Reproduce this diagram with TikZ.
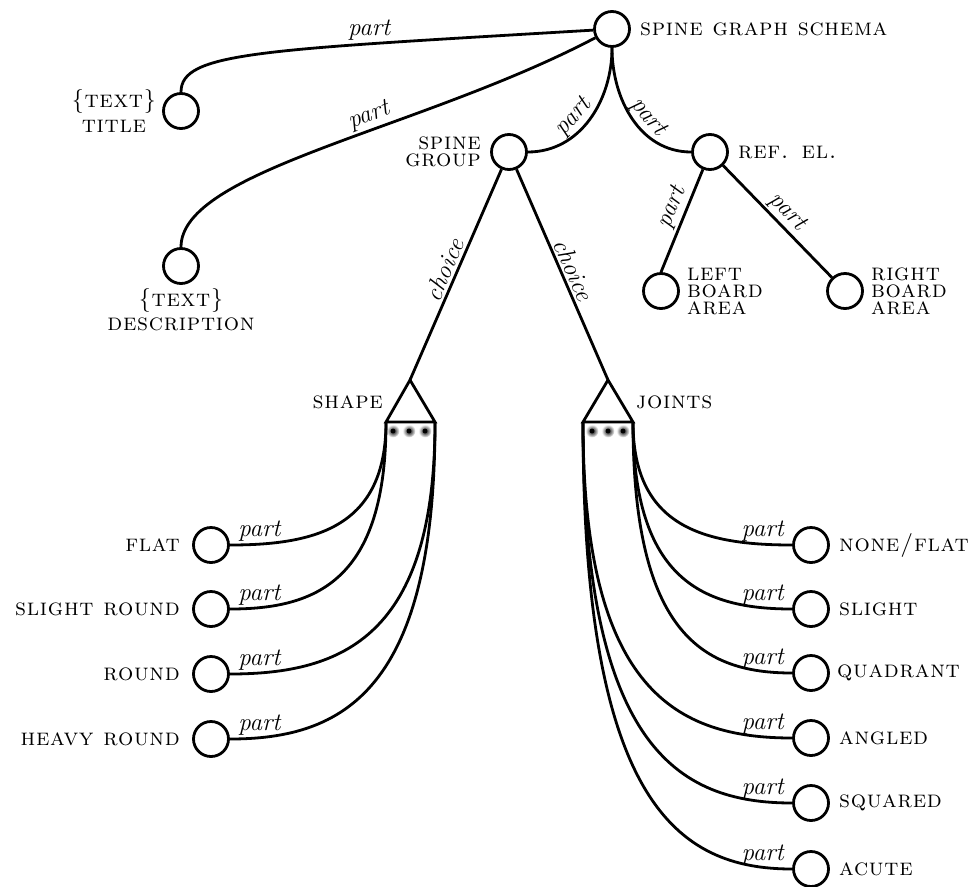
\documentclass[tikz,border=0pt]{standalone}
\usepackage{fontspec}
\newfontfamily\capsfont{lmromancaps10-regular.otf}[LetterSpace=3]
\usetikzlibrary{positioning,calc}
\begin{document}
\begin{tikzpicture}[x=1pt,y=-1pt,
  ent/.style={circle,draw,line width=2.8pt,minimum size=35pt,inner sep=0pt},
  conn/.style={line width=2.8pt},
  tri/.style={line width=2.8pt},
  txt/.style={font=\capsfont\fontsize{24}{17}\selectfont, inner sep=0pt},
  rel/.style={font=\fontsize{25}{25}\selectfont\itshape, inner sep=2pt},
]
\useasboundingbox (0,0) rectangle (973,886);

% entity circles
\node[ent] (root) at (612,29) {};
\node[ent] (title) at (181,111) {};
\node[ent] (desc) at (181,266) {};
\node[ent] (sg) at (509,152) {};
\node[ent] (ref) at (710,152) {};
\node[ent] (lb) at (661,291) {};
\node[ent] (rb) at (845,291) {};
\node[ent] (flat) at (211,545) {};
\node[ent] (sround) at (211,609) {};
\node[ent] (round) at (211,674) {};
\node[ent] (hround) at (211,739) {};
\node[ent] (nf) at (811,545) {};
\node[ent] (sl) at (811,609) {};
\node[ent] (quad) at (811,673) {};
\node[ent] (ang) at (811,738) {};
\node[ent] (sq) at (811,803) {};
\node[ent] (acute) at (811,869) {};

% choice triangles
\coordinate (shA) at (410,380);
\coordinate (shL) at (386,422);
\coordinate (shR) at (435,422);
\coordinate (jA) at (608,380);
\coordinate (jL) at (583,422);
\coordinate (jR) at (633,422);
\draw[tri] (shA) -- (shL) -- (shR) -- cycle;
\draw[tri] (jA) -- (jL) -- (jR) -- cycle;
\foreach \x in {393,409,425,592,608,623} {
  \shade[inner color=black, outer color=white] (\x,431) circle (6.5);
  \fill (\x,431) circle (2.4);
}

% labels
\node[txt, right=9pt of root] (troot) {spine graph schema};
\node[txt, left=6pt of title, align=center] (ttitle) {\{text\}\\[5pt]title};
\node[txt, below=3pt of desc, align=center] (tdesc) {\{text\}\\[5pt]description};
\node[txt, left=9pt of sg, align=right] (tsg) {spine\\group};
\node[txt, right=9pt of ref] (tref) {ref. el.};
\node[txt, right=7pt of lb, align=left] (tlb) {left\\board\\area};
\node[txt, right=7pt of rb, align=left] (trb) {right\\board\\area};
\node[txt, anchor=east] (tshape) at (383,402) {shape};
\node[txt, anchor=west] (tjoints) at (636,402) {joints};
\node[txt, left=12pt of flat] (tflat) {flat};
\node[txt, left=12pt of sround] (tsround) {slight round};
\node[txt, left=12pt of round] (tround) {round};
\node[txt, left=12pt of hround] (thround) {heavy round};
\node[txt, right=9pt of nf] (tnf) {none/flat};
\node[txt, right=9pt of sl] (tsl) {slight};
\node[txt, right=7pt of quad] (tquad) {quadrant};
\node[txt, right=9pt of ang] (tang) {angled};
\node[txt, right=9pt of sq] (tsq) {squared};
\node[txt, right=9pt of acute] (tacute) {acute};

% top connectors
\draw[conn] (title.north) .. controls (181,52) and (260,50) .. (root)
  node[rel,pos=0.72,above] {part};
\draw[conn] (desc.north) .. controls (181,170) and (420,130) .. (root)
  node[rel,pos=0.6,above,sloped] {part};
\draw[conn] (root.south) to[out=-90,in=0] node[rel,pos=0.56,above,sloped] {part} (sg.east);
\draw[conn] (root.south) to[out=-90,in=180] node[rel,pos=0.56,above,sloped] {part} (ref.west);
\draw[conn] (ref) -- node[rel,pos=0.42,above,sloped] {part} (lb.north);
\draw[conn] (ref) -- node[rel,pos=0.5,above,sloped] {part} (rb);
\draw[conn] (sg) -- node[rel,pos=0.5,above,sloped] {choice} (shA);
\draw[conn] (sg) -- node[rel,pos=0.5,above,sloped] {choice} (jA);

% shape alternatives
\draw[conn] (shL) .. controls +(0,105) and +(86,0) .. (flat.east)
  node[rel,pos=1,anchor=south west,xshift=5pt] {part};
\draw[conn] (shL) .. controls +(0,159) and +(86,0) .. (sround.east)
  node[rel,pos=1,anchor=south west,xshift=5pt] {part};
\draw[conn] (shR) .. controls +(0,214) and +(113,0) .. (round.east)
  node[rel,pos=1,anchor=south west,xshift=5pt] {part};
\draw[conn] (shR) .. controls +(0,269) and +(113,0) .. (hround.east)
  node[rel,pos=1,anchor=south west,xshift=5pt] {part};

% joints alternatives
\draw[conn] (jR) .. controls +(0,105) and +(-88,0) .. (nf.west)
  node[rel,pos=1,anchor=south east,xshift=-5pt] {part};
\draw[conn] (jR) .. controls +(0,159) and +(-88,0) .. (sl.west)
  node[rel,pos=1,anchor=south east,xshift=-5pt] {part};
\draw[conn] (jR) .. controls +(0,213) and +(-88,0) .. (quad.west)
  node[rel,pos=1,anchor=south east,xshift=-5pt] {part};
\draw[conn] (jL) .. controls +(0,269) and +(-115,0) .. (ang.west)
  node[rel,pos=1,anchor=south east,xshift=-5pt] {part};
\draw[conn] (jL) .. controls +(0,324) and +(-115,0) .. (sq.west)
  node[rel,pos=1,anchor=south east,xshift=-5pt] {part};
\draw[conn] (jL) .. controls +(0,380) and +(-115,0) .. (acute.west)
  node[rel,pos=1,anchor=south east,xshift=-5pt] {part};
\end{tikzpicture}
\end{document}
